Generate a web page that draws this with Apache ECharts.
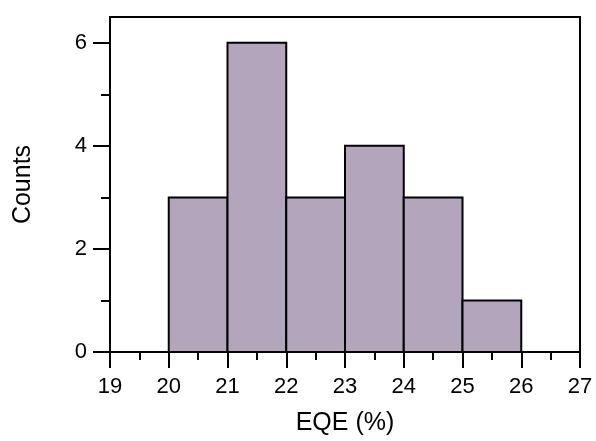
<!DOCTYPE html>
<html>
<head>
<meta charset="utf-8">
<script src="https://cdn.jsdelivr.net/npm/echarts@6/dist/echarts.min.js"></script>
<style>html,body{margin:0;padding:0;background:#fff;}#c{width:596px;height:441px;}</style>
</head>
<body>
<div id="c"></div>
<script>
var binStarts = [20, 21, 22, 23, 24, 25];
var binEnds = [21, 22, 23, 24, 25, 26];
var counts = [3, 6, 3, 4, 3, 1];
var yMajorTicks = [0, 2, 4, 6];
var yMinorTicks = [1, 3, 5];
var xLabel = 'EQE (%)';
var yLabel = 'Counts';

var FONT = '"Liberation Sans", Arial, Helvetica, sans-serif';
var data = binStarts.map(function (s, i) { return [s, binEnds[i], counts[i]]; });

var chart = echarts.init(document.getElementById('c'), null, {renderer: 'canvas'});
chart.setOption({
  animation: false,
  backgroundColor: '#fff',
  grid: {left: 110, right: 16, top: 17, bottom: 84, show: true, borderColor: '#000', borderWidth: 2, backgroundColor: 'transparent'},
  xAxis: {
    type: 'value', min: 19, max: 27, interval: 1,
    name: xLabel, nameLocation: 'middle', nameGap: 59,
    nameTextStyle: {fontFamily: FONT, fontSize: 25, color: '#000'},
    axisLine: {show: true, onZero: false, lineStyle: {color: '#000', width: 2}},
    axisTick: {show: true, inside: false, length: 16, lineStyle: {color: '#000', width: 2}},
    minorTick: {show: true, splitNumber: 2, length: 8, lineStyle: {color: '#000', width: 2}},
    axisLabel: {fontFamily: FONT, fontSize: 22, color: '#000', margin: 24},
    splitLine: {show: false}
  },
  yAxis: [{
    type: 'value', min: 0, max: 6.5,
    name: yLabel, nameLocation: 'middle', nameGap: 74, nameRotate: 90,
    nameTextStyle: {fontFamily: FONT, fontSize: 25, color: '#000'},
    axisLine: {show: true, onZero: false, lineStyle: {color: '#000', width: 2}},
    axisTick: {show: true, inside: false, length: 17, customValues: yMajorTicks, lineStyle: {color: '#000', width: 2}},
    axisLabel: {fontFamily: FONT, fontSize: 22, color: '#000', margin: 23, customValues: yMajorTicks},
    splitLine: {show: false}
  }, {
    type: 'value', min: 0, max: 6.5, position: 'left', offset: 0,
    axisLine: {show: false},
    axisTick: {show: true, inside: false, length: 9, customValues: yMinorTicks, lineStyle: {color: '#000', width: 2}},
    axisLabel: {show: false},
    splitLine: {show: false}
  }],
  series: [{
    type: 'custom',
    data: data,
    encode: {x: [0, 1], y: 2},
    renderItem: function (params, api) {
      var p0 = api.coord([api.value(0), 0]);
      var p1 = api.coord([api.value(1), api.value(2)]);
      return {
        type: 'rect',
        shape: {x: p0[0], y: p1[1], width: p1[0] - p0[0], height: p0[1] - p1[1]},
        style: {fill: '#b3a5bc', stroke: '#000', lineWidth: 2}
      };
    }
  }]
});
</script>
</body>
</html>
